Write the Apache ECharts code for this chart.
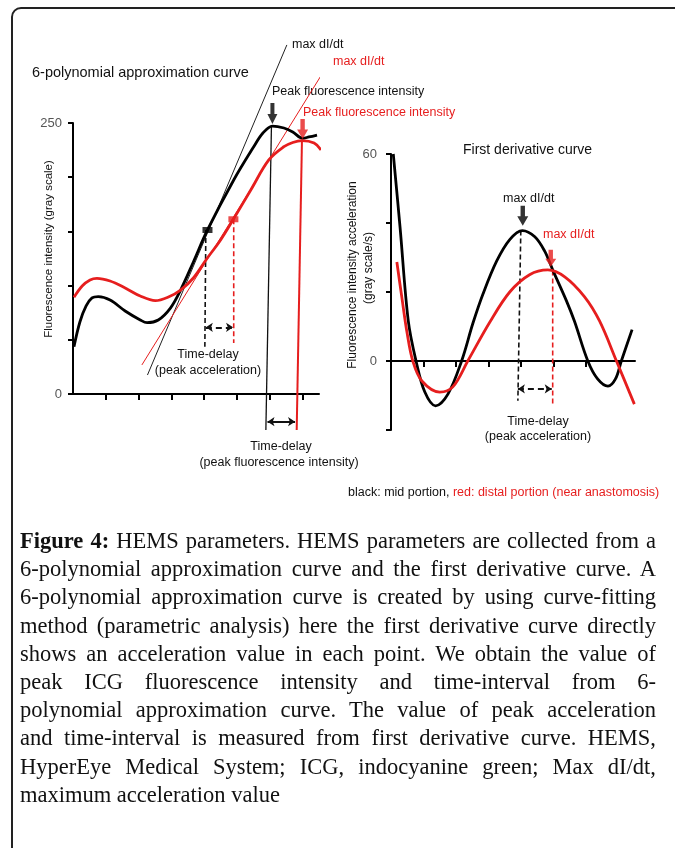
<!DOCTYPE html>
<html>
<head>
<meta charset="utf-8">
<script src="https://cdn.jsdelivr.net/npm/echarts@6/dist/echarts.min.js"></script>
<style>
html, body { margin: 0; padding: 0; background: #fff; }
#wrap { position: relative; width: 675px; height: 848px; overflow: hidden; }
#chart { position: absolute; left: 0; top: 0; width: 675px; height: 848px; }
#caption { position: absolute; left: 20px; top: 527px; width: 636px;
  font-family: 'Liberation Serif', 'DejaVu Serif', serif; font-size: 22.5px; line-height: 28.2px; color: #111; }
#caption div { text-align: justify; text-align-last: justify; }
#caption div.last { text-align-last: left; }
</style>
</head>
<body>
<div id="wrap">
  <div id="chart"></div>
  <div id="caption">
    <div><b>Figure 4:</b> HEMS parameters. HEMS parameters are collected from a</div>
    <div>6-polynomial approximation curve and the first derivative curve. A</div>
    <div>6-polynomial approximation curve is created by using curve-fitting</div>
    <div>method (parametric analysis) here the first derivative curve directly</div>
    <div>shows an acceleration value in each point. We obtain the value of</div>
    <div>peak ICG fluorescence intensity and time-interval from 6-</div>
    <div>polynomial approximation curve. The value of peak acceleration</div>
    <div>and time-interval is measured from first derivative curve. HEMS,</div>
    <div>HyperEye Medical System; ICG, indocyanine green; Max dI/dt,</div>
    <div class="last">maximum acceleration value</div>
  </div>
</div>
<script>
var BLACK = '#000';
var RED = '#e61e1e';

// tick positions / labels
var xTicks = [1, 2, 3, 4, 5, 6, 7];
var intensityLabels = [0, 250];
var accelLabels = [0, 60];

// 6-polynomial approximation curve (gray scale)
var intensityMid = [
    [0.03, 43.6], [0.21, 66.4], [0.40, 81.2], [0.58, 88.6], [0.77, 89.8], [1.13, 86.7],
    [1.59, 76.6], [2.05, 68.3], [2.26, 65.8], [2.60, 68.3], [2.97, 79.3], [3.28, 95.9],
    [3.67, 121.8], [4.10, 151.3], [4.90, 197.4], [5.51, 228.1], [5.79, 240.8],
    [6.08, 247.2], [6.43, 245.4], [6.70, 241.7], [7.00, 235.9], [7.19, 237.1], [7.44, 238.9]
];
var intensityDistal = [
    [0.03, 89.2], [0.28, 99.6], [0.52, 105.2], [0.73, 106.7], [1.13, 104.2], [1.59, 97.8],
    [2.05, 90.4], [2.51, 86.1], [2.91, 89.5], [3.28, 95.9], [3.67, 107.0], [4.09, 125.2],
    [4.50, 142.1], [4.89, 161.2], [5.42, 188.2], [5.97, 215.9], [6.43, 228.1], [6.70, 232.0],
    [6.98, 233.7], [7.35, 231.5], [7.56, 225.1]
];

// first derivative curve (gray scale/s)
var accelMid = [
    [0.07, 60.0], [0.28, 38.6], [0.53, 11.7], [0.77, 0], [1.04, -9.0], [1.37, -13.0],
    [1.75, -9.6], [2.17, 0], [2.52, 11.0], [2.83, 19.5], [3.25, 29.0], [3.65, 35.2],
    [4.04, 37.8], [4.42, 36.0], [4.72, 31.9], [4.98, 26.2], [5.39, 17.5], [5.64, 11.5],
    [6.05, 0], [6.35, -5.2], [6.67, -7.3], [6.90, -5.2], [7.08, 0], [7.41, 9.1]
];
var accelDistal = [
    [0.18, 28.7], [0.34, 18.0], [0.49, 8.4], [0.67, 0], [0.95, -5.8], [1.50, -9.0],
    [1.90, -7.5], [2.36, 0], [3.04, 11.3], [3.65, 20.0], [4.26, 25.0], [4.82, 26.4],
    [5.34, 24.4], [5.95, 18.6], [6.41, 11.6], [6.93, 0], [7.48, -12.5]
];

// annotations, left chart
var slopePointMid = [[4.10, 151.3]];
var slopePointDistal = [[4.89, 161.2]];
var tangentMid = [[2.27, 17.5], [6.52, 322]];
var tangentDistal = [[2.10, 26.8], [7.92, 311.2]];
var peakLineMid = [[6.05, 247], [5.88, -33.2]];
var peakLineDistal = [[6.98, 233.4], [6.82, -33.2]];
var slopeDropMid = [[4.05, 151.3], [4.02, 43.6]];
var slopeDropDistal = [[4.90, 161.2], [4.90, 47]];
var delayAccelLeft = [[4.05, 61.5], [4.88, 61.5]];
var delayPeak = [[5.93, -25.5], [6.77, -25.5]];
var peakArrowMid = [[6.08, 249]];
var peakArrowDistal = [[7.0, 235.2]];

// annotations, right chart
var maxDropMid = [[3.99, 37.8], [3.90, -11.5]];
var maxDropDistal = [[4.97, 26.2], [4.97, -12.5]];
var delayAccelRight = [[3.90, -8.1], [4.94, -8.1]];
var maxArrowMid = [[4.05, 39.2]];
var maxArrowDistal = [[4.91, 27.3]];

var arrowPath = 'path://M3,0L7,0L7,11L10,11L5,21L0,11L3,11Z';

function curve(data, color, grid) {
    return {
        type: 'line', data: data, xAxisIndex: grid, yAxisIndex: grid,
        smooth: 0.35, symbol: 'none', clip: false, silent: true,
        lineStyle: { color: color, width: 2.8 }, z: 3
    };
}

function plain(data, color, width, dash, grid) {
    return {
        type: 'line', data: data, xAxisIndex: grid, yAxisIndex: grid,
        symbol: 'none', clip: false, silent: true,
        lineStyle: { color: color, width: width, type: dash || 'solid' }, z: 2
    };
}

function arrowLine(coords, color, dash, grid) {
    return {
        type: 'lines', coordinateSystem: 'cartesian2d', xAxisIndex: grid, yAxisIndex: grid,
        symbol: ['arrow', 'arrow'], symbolSize: 7, clip: false, silent: true,
        lineStyle: { color: color, width: 2, type: dash || 'solid', opacity: 1, curveness: 0 },
        data: [{ coords: coords }], z: 4
    };
}

function downArrow(data, color, grid, size) {
    return {
        type: 'scatter', data: data, xAxisIndex: grid, yAxisIndex: grid,
        symbol: arrowPath, symbolSize: size, symbolOffset: [0, -size[1] / 2],
        clip: false, silent: true, itemStyle: { color: color }, z: 5
    };
}

function marker(data, color) {
    return {
        type: 'scatter', data: data, xAxisIndex: 0, yAxisIndex: 0,
        symbol: 'rect', symbolSize: [10, 6], silent: true,
        itemStyle: { color: color }, z: 5
    };
}

function txt(x, y, s, color, size, align, rot) {
    return {
        type: 'text', x: x, y: y, rotation: rot || 0, silent: true,
        style: {
            text: s, fill: color || '#111', fontSize: size || 12.5,
            fontFamily: 'Liberation Sans, Arial, sans-serif',
            align: align || 'left', verticalAlign: 'middle'
        }
    };
}

function xAx(grid) {
    return {
        type: 'value', gridIndex: grid, min: 0, max: 7.5, interval: 1,
        axisLine: { show: true, onZero: true, lineStyle: { color: BLACK, width: 2 } },
        axisTick: { show: true, customValues: xTicks, length: 6, lineStyle: { color: BLACK, width: 2 } },
        axisLabel: { show: false },
        splitLine: { show: false }
    };
}

function yAx(grid, min, max, interval, labels, margin) {
    return {
        type: 'value', gridIndex: grid, min: min, max: max, interval: interval,
        axisLine: { show: true, onZero: false, lineStyle: { color: BLACK, width: 2 } },
        axisTick: { show: true, length: 5, lineStyle: { color: BLACK, width: 2 } },
        axisLabel: {
            customValues: labels, color: '#555', fontSize: 13, margin: margin,
            fontFamily: 'Liberation Sans, Arial, sans-serif'
        },
        splitLine: { show: false }
    };
}

var option = {
    animation: false,
    backgroundColor: '#fff',
    grid: [
        { left: 73, top: 123, width: 246, height: 271 },
        { left: 391, top: 154, width: 244, height: 276 }
    ],
    xAxis: [xAx(0), xAx(1)],
    yAxis: [yAx(0, 0, 250, 50, intensityLabels, 11), yAx(1, -20, 60, 20, accelLabels, 14)],
    series: [
        plain(tangentMid, '#222', 1, 'solid', 0),
        plain(tangentDistal, RED, 1, 'solid', 0),
        plain(peakLineMid, '#111', 1.3, 'solid', 0),
        plain(peakLineDistal, RED, 2, 'solid', 0),
        plain(slopeDropMid, '#111', 1.6, [5, 3], 0),
        plain(slopeDropDistal, RED, 1.6, [5, 3], 0),
        plain(maxDropMid, '#111', 1.6, [5, 3], 1),
        plain(maxDropDistal, RED, 1.6, [5, 3], 1),
        curve(intensityMid, BLACK, 0),
        curve(intensityDistal, RED, 0),
        curve(accelMid, BLACK, 1),
        curve(accelDistal, RED, 1),
        arrowLine(delayAccelLeft, '#111', [6, 4], 0),
        arrowLine(delayPeak, '#111', 'solid', 0),
        arrowLine(delayAccelRight, '#111', [6, 4], 1),
        marker(slopePointMid, BLACK),
        marker(slopePointDistal, RED),
        downArrow(peakArrowMid, BLACK, 0, [10, 21]),
        downArrow(peakArrowDistal, RED, 0, [11, 20]),
        downArrow(maxArrowMid, BLACK, 1, [11, 20]),
        downArrow(maxArrowDistal, RED, 1, [11, 17])
    ],
    graphic: [
        {
            type: 'rect', silent: true,
            shape: { x: 12, y: 8, width: 700, height: 900, r: [9, 0, 0, 0] },
            style: { fill: 'none', stroke: '#222', lineWidth: 2 }
        },
        txt(32, 73, '6-polynomial approximation curve', '#111', 14.5),
        txt(292, 45, 'max dI/dt', '#111', 12.5),
        txt(333, 62, 'max dI/dt', RED, 12.5),
        txt(272, 92, 'Peak fluorescence intensity', '#111', 12.5),
        txt(303, 113, 'Peak fluorescence intensity', RED, 12.5),
        txt(208, 355, 'Time-delay', '#111', 12.5, 'center'),
        txt(208, 371, '(peak acceleration)', '#111', 12.5, 'center'),
        txt(281, 447, 'Time-delay', '#111', 12.5, 'center'),
        txt(279, 463, '(peak fluorescence intensity)', '#111', 12.5, 'center'),
        txt(49, 249, 'Fluorescence intensity (gray scale)', '#111', 11.5, 'center', Math.PI / 2),
        txt(463, 150, 'First derivative curve', '#111', 14),
        txt(503, 199, 'max dI/dt', '#111', 12.5),
        txt(543, 235, 'max dI/dt', RED, 12.5),
        txt(538, 422, 'Time-delay', '#111', 12.5, 'center'),
        txt(538, 437, '(peak acceleration)', '#111', 12.5, 'center'),
        txt(353, 275, 'Fluorescence intensity acceleration', '#111', 12, 'center', Math.PI / 2),
        txt(369, 268, '(gray scale/s)', '#111', 12, 'center', Math.PI / 2),
        {
            type: 'text', x: 348, y: 493, silent: true,
            style: {
                text: '{a|black: mid portion, }{b|red: distal portion (near anastomosis)}',
                verticalAlign: 'middle', fontFamily: 'Liberation Sans, Arial, sans-serif', fontSize: 12.5,
                rich: {
                    a: { fill: '#111', fontSize: 12.5, fontFamily: 'Liberation Sans, Arial, sans-serif' },
                    b: { fill: RED, fontSize: 12.5, fontFamily: 'Liberation Sans, Arial, sans-serif' }
                }
            }
        }
    ]
};

var chart = echarts.init(document.getElementById('chart'));
chart.setOption(option);
</script>
</body>
</html>
